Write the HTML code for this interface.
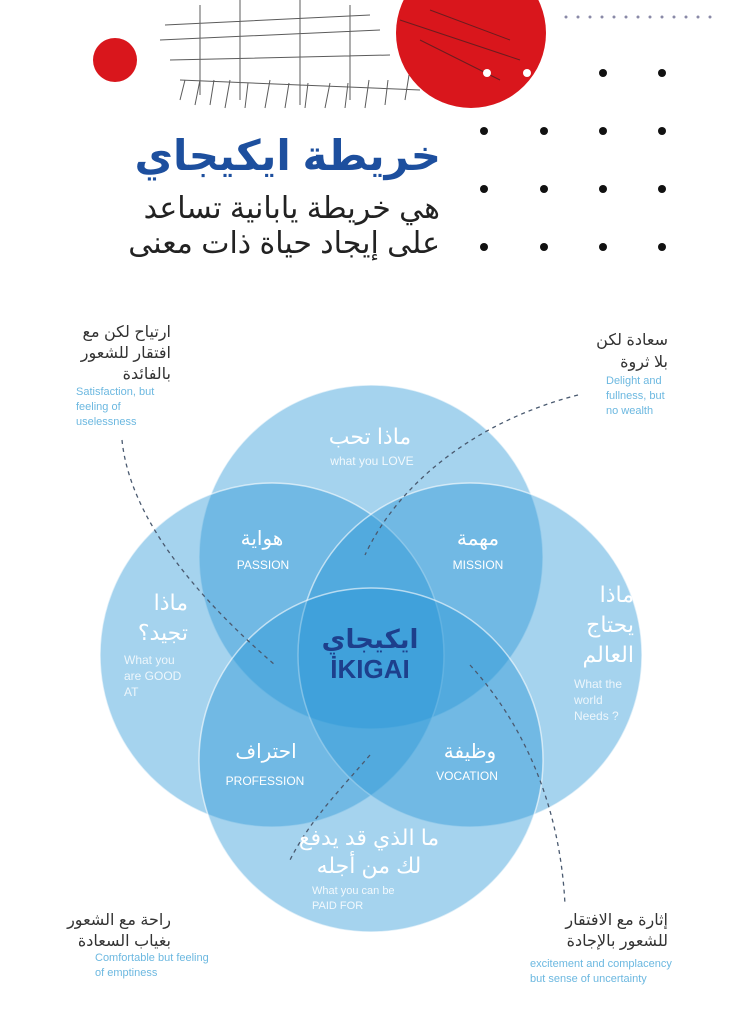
<!DOCTYPE html>
<html><head><meta charset="utf-8"><style>
body{margin:0;width:736px;height:1024px;background:#fff;overflow:hidden;font-family:"Liberation Sans","DejaVu Sans",sans-serif;}
</style></head><body>
<svg width="736" height="1024" viewBox="0 0 736 1024" xmlns="http://www.w3.org/2000/svg" style="position:absolute;left:0;top:0">
<!-- header -->
<g stroke="#333" stroke-width="1" fill="none" opacity="0.8">
<path d="M160 40 L380 30 M170 60 L390 55 M165 25 L370 15 M200 5 L200 95 M240 0 L240 100 M300 0 L300 105 M350 5 L350 100 M180 80 L420 90"/>
<path d="M180 100 l5 -20 M195 105 l5 -25 M210 105 l4 -25 M225 108 l5 -28 M245 108 l3 -25 M265 108 l5 -28 M285 108 l4 -25 M305 108 l3 -25 M325 108 l5 -25 M345 108 l3 -25 M365 108 l4 -28 M385 105 l3 -25 M405 100 l4 -25"/>
</g>
<circle cx="471" cy="33" r="75" fill="#d9161c"/>
<g stroke="#222" stroke-width="1" fill="none" opacity="0.6">
<path d="M400 20 L520 60 M420 40 L500 80 M430 10 L510 40"/>
</g>
<circle cx="115" cy="60" r="22" fill="#d9161c"/>
<circle cx="487" cy="73" r="4" fill="#fff"/><circle cx="527" cy="73" r="4" fill="#fff"/>
<g fill="#111">
<circle cx="603" cy="73" r="4"/><circle cx="662" cy="73" r="4"/>
<circle cx="484" cy="131" r="4"/><circle cx="544" cy="131" r="4"/><circle cx="603" cy="131" r="4"/><circle cx="662" cy="131" r="4"/>
<circle cx="484" cy="189" r="4"/><circle cx="544" cy="189" r="4"/><circle cx="603" cy="189" r="4"/><circle cx="662" cy="189" r="4"/>
<circle cx="484" cy="247" r="4"/><circle cx="544" cy="247" r="4"/><circle cx="603" cy="247" r="4"/><circle cx="662" cy="247" r="4"/>
</g>
<g fill="#8a8aa8">
<circle cx="566" cy="17" r="1.5"/><circle cx="578" cy="17" r="1.5"/><circle cx="590" cy="17" r="1.5"/><circle cx="602" cy="17" r="1.5"/><circle cx="614" cy="17" r="1.5"/><circle cx="626" cy="17" r="1.5"/><circle cx="638" cy="17" r="1.5"/><circle cx="650" cy="17" r="1.5"/><circle cx="662" cy="17" r="1.5"/><circle cx="674" cy="17" r="1.5"/><circle cx="686" cy="17" r="1.5"/><circle cx="698" cy="17" r="1.5"/><circle cx="710" cy="17" r="1.5"/>
</g>
<g font-family="'Liberation Sans','DejaVu Sans',sans-serif" text-anchor="start" direction="rtl">
<text x="441" y="170" font-size="42" font-weight="bold" fill="#1d4f9e">خريطة ايكيجاي</text>
<text x="440" y="218" font-size="30" fill="#222">هي خريطة يابانية تساعد</text>
<text x="440" y="253" font-size="30" fill="#222">على إيجاد حياة ذات معنى</text>
</g>
<!-- circles -->
<g fill="rgb(40,150,215)" fill-opacity="0.42" stroke="#fff" stroke-opacity="0.6" stroke-width="1.5">
<circle cx="371" cy="557" r="172"/>
<circle cx="272" cy="655" r="172"/>
<circle cx="470" cy="655" r="172"/>
<circle cx="371" cy="760" r="172"/>
</g>
<!-- dashed connectors -->
<g stroke="#4a5a70" stroke-width="1.3" fill="none" stroke-dasharray="4 4">
<path d="M122 440 C130 520 200 600 275 665"/>
<path d="M578 395 C480 420 400 480 365 555"/>
<path d="M470 665 C520 720 560 800 565 905"/>
<path d="M370 755 C340 790 310 820 290 860"/>
</g>
<g font-family="'Liberation Sans','DejaVu Sans',sans-serif" text-anchor="middle" fill="#fff">
<text x="370" y="444" font-size="22" direction="rtl">ماذا تحب</text>
<text x="372" y="465" font-size="12" fill-opacity="0.85">what you LOVE</text>
<text x="262" y="545" font-size="20" direction="rtl">هواية</text>
<text x="263" y="569" font-size="12">PASSION</text>
<text x="478" y="545" font-size="20" direction="rtl">مهمة</text>
<text x="478" y="569" font-size="12">MISSION</text>
<text x="467" y="780" font-size="12">VOCATION</text>
<text x="470" y="758" font-size="20" direction="rtl">وظيفة</text>
<text x="266" y="758" font-size="20" direction="rtl">احتراف</text>
<text x="265" y="785" font-size="12">PROFESSION</text>
<text x="369" y="845" font-size="22" direction="rtl">ما الذي قد يدفع</text>
<text x="369" y="873" font-size="22" direction="rtl">لك من أجله</text>
</g>
<g font-family="'Liberation Sans','DejaVu Sans',sans-serif" fill="#fff">
<text x="312" y="894" font-size="11" fill-opacity="0.85">What you can be</text>
<text x="312" y="909" font-size="11" fill-opacity="0.85">PAID FOR</text>
<text x="188" y="610" font-size="22" text-anchor="start" direction="rtl">ماذا</text>
<text x="188" y="640" font-size="22" text-anchor="start" direction="rtl">تجيد؟</text>
<text x="124" y="664" font-size="12" fill-opacity="0.8">What you</text>
<text x="124" y="680" font-size="12" fill-opacity="0.8">are GOOD</text>
<text x="124" y="696" font-size="12" fill-opacity="0.8">AT</text>
<text x="634" y="602" font-size="22" text-anchor="start" direction="rtl">ماذا</text>
<text x="634" y="632" font-size="22" text-anchor="start" direction="rtl">يحتاج</text>
<text x="634" y="662" font-size="22" text-anchor="start" direction="rtl">العالم</text>
<text x="574" y="688" font-size="12" fill-opacity="0.8">What the</text>
<text x="574" y="704" font-size="12" fill-opacity="0.8">world</text>
<text x="574" y="720" font-size="12" fill-opacity="0.8">Needs ?</text>
</g>
<g font-family="'Liberation Sans','DejaVu Sans',sans-serif" text-anchor="middle">
<text x="370" y="648" font-size="26" font-weight="bold" fill="#1d3f8c" direction="rtl">ايكيجاي</text>
<text x="370" y="678" font-size="26" font-weight="bold" fill="#1d3f8c">İKIGAI</text>
</g>
<!-- corner notes -->
<g font-family="'Liberation Sans','DejaVu Sans',sans-serif">
<g text-anchor="start" direction="rtl" fill="#333" font-size="16">
<text x="171" y="337">ارتياح لكن مع</text>
<text x="171" y="358">افتقار للشعور</text>
<text x="171" y="379">بالفائدة</text>
<text x="668" y="345">سعادة لكن</text>
<text x="668" y="367">بلا ثروة</text>
<text x="171" y="925">راحة مع الشعور</text>
<text x="171" y="946">بغياب السعادة</text>
<text x="668" y="925">إثارة مع الافتقار</text>
<text x="668" y="946">للشعور بالإجادة</text>
</g>
<g fill="#6cb8e0" font-size="11">
<text x="76" y="395">Satisfaction, but</text>
<text x="76" y="410">feeling of</text>
<text x="76" y="425">uselessness</text>
<text x="606" y="384">Delight and</text>
<text x="606" y="399">fullness, but</text>
<text x="606" y="414">no wealth</text>
<text x="95" y="961">Comfortable but feeling</text>
<text x="95" y="976">of emptiness</text>
<text x="530" y="967">excitement and complacency</text>
<text x="530" y="982">but sense of uncertainty</text>
</g>
</g>
</svg>
</body></html>
